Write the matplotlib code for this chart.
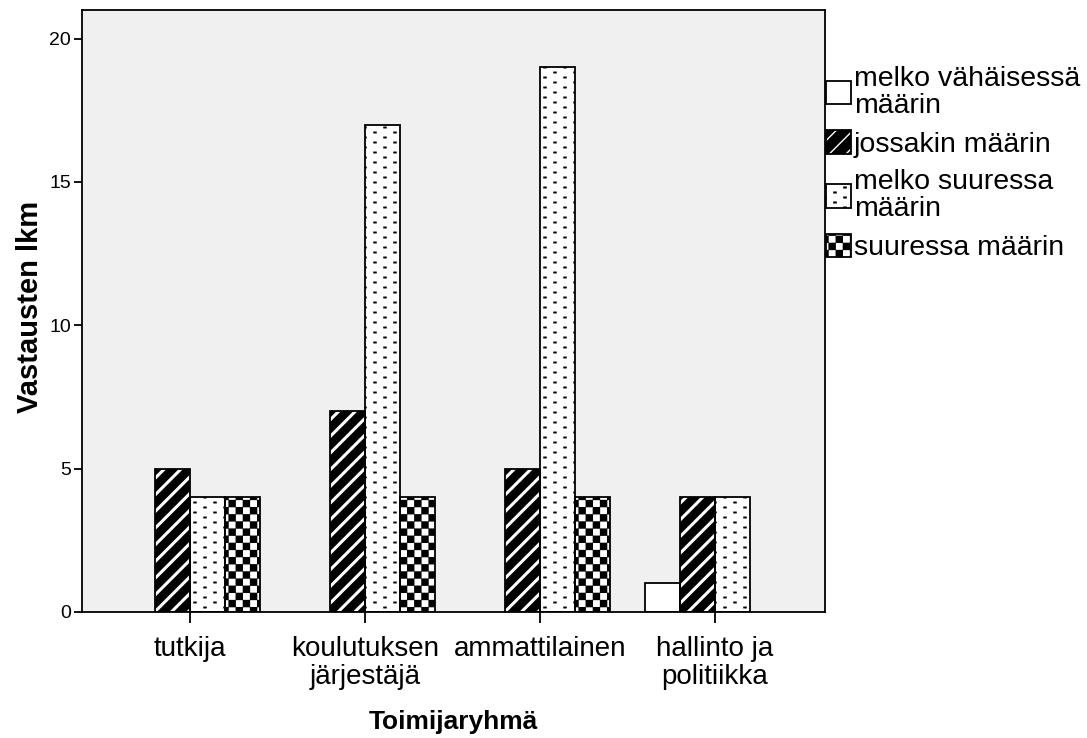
import numpy as np
import matplotlib
matplotlib.use("Agg")
import matplotlib.pyplot as plt
import matplotlib.hatch as mhatch
from matplotlib.path import Path
from matplotlib.patches import Patch

categories = ["tutkija", "koulutuksen\njärjestäjä", "ammattilainen", "hallinto ja\npolitiikka"]
series = ["melko vähäisessä\nmäärin", "jossakin määrin", "melko suuressa\nmäärin", "suuressa määrin"]
melko_vahaisessa = [0, 0, 0, 1]
jossakin = [5, 7, 5, 4]
melko_suuressa = [4, 17, 19, 4]
suuressa = [4, 4, 4, 0]
yticks = [0, 5, 10, 15, 20]


# SPSS-like fill patterns: checker ('*') and staggered dashes ('.')
class Checker(mhatch.HatchPatternBase):
    def __init__(self, hatch, density):
        self.n = 14 if "*" in hatch else 0
        self.num_vertices = self.n * self.n // 2 * 5

    def set_vertices_and_codes(self, vertices, codes):
        s = 1.0 / self.n
        m = 0.12 * s
        k = 0
        for i in range(self.n):
            for j in range(self.n):
                if (i + j) % 2:
                    continue
                x, y = j * s, i * s
                vertices[k:k + 5] = [[x + m, y + m], [x + s - m, y + m], [x + s - m, y + s - m],
                                     [x + m, y + s - m], [x + m, y + m]]
                codes[k:k + 5] = [Path.MOVETO, Path.LINETO, Path.LINETO, Path.LINETO, Path.CLOSEPOLY]
                k += 5


class Dashes(mhatch.HatchPatternBase):
    def __init__(self, hatch, density):
        self.rows = 20 if "." in hatch else 0
        self.cols = 5
        self.num_vertices = self.rows * self.cols * 5

    def set_vertices_and_codes(self, vertices, codes):
        w, h = 0.022, 0.007
        k = 0
        for i in range(self.rows):
            y = (i + 0.5) / self.rows
            for j in range(self.cols):
                x = (j + 0.25 + 0.5 * (i % 2)) / self.cols
                vertices[k:k + 5] = [[x - w / 2, y - h / 2], [x + w / 2, y - h / 2], [x + w / 2, y + h / 2],
                                     [x - w / 2, y + h / 2], [x - w / 2, y - h / 2]]
                codes[k:k + 5] = [Path.MOVETO, Path.LINETO, Path.LINETO, Path.LINETO, Path.CLOSEPOLY]
                k += 5


mhatch._hatch_types = [t for t in mhatch._hatch_types
                       if t not in (mhatch.Stars, mhatch.SmallFilledCircles)] + [Checker, Dashes]

plt.rcParams["font.family"] = ["Liberation Sans", "DejaVu Sans"]

values = [melko_vahaisessa, jossakin, melko_suuressa, suuressa]
faces = ["white", "black", "white", "black"]
hatch_cols = ["black", "white", "black", "white"]
hatches = [None, "//", ".", "*"]
hatch_lws = [1.0, 2.2, 0.9, 1.0]

fig = plt.figure(figsize=(10.87, 7.38), dpi=100)
ax = fig.add_axes([82 / 1087, 1 - 612 / 738, (825 - 82) / 1087, (612 - 10) / 738])
ax.set_facecolor("#f0f0f0")

pos = np.arange(len(categories))
width = 0.2
handles = []
for k in range(len(series)):
    vals = np.asarray(values[k], dtype=float)
    x = pos + (k - 1.5) * width
    mask = vals > 0
    fill = ax.bar(x[mask], vals[mask], width, color=faces[k], edgecolor=hatch_cols[k],
                  hatch=hatches[k], linewidth=0, zorder=2)
    for b in fill:
        if hasattr(b, "set_hatch_linewidth"):
            b.set_hatch_linewidth(hatch_lws[k])
    ax.bar(x[mask], vals[mask], width, fill=False, edgecolor="black", linewidth=1.3, zorder=3)
    hp = Patch(facecolor=faces[k], edgecolor=hatch_cols[k], hatch=hatches[k], linewidth=0)
    if hasattr(hp, "set_hatch_linewidth"):
        hp.set_hatch_linewidth(hatch_lws[k])
    op = Patch(fill=False, edgecolor="black", linewidth=1.3)
    handles.append((hp, op))

ax.set_xlim(-0.617, 3.629)
ax.set_ylim(0, 21.0)
ax.set_xticks(pos)
ax.set_xticklabels(categories, fontsize=20, linespacing=1.1)
ax.set_yticks(yticks)
ax.set_yticklabels([str(v) for v in yticks], fontsize=14)
ax.tick_params(axis="x", length=8, width=1.3, pad=9)
ax.tick_params(axis="y", length=6, width=1.3, pad=2)
for sp in ax.spines.values():
    sp.set_linewidth(1.3)

fig.text(30 / 1087, 1 - 307 / 738, "Vastausten lkm", rotation=90, fontsize=21,
         fontweight="bold", ha="center", va="center")
fig.text(453.5 / 1087, 1 - 722 / 738, "Toimijaryhmä", fontsize=19, fontweight="bold",
         ha="center", va="center")

leg = fig.legend(handles, series, loc="upper left", bbox_to_anchor=(826 / 1087, 1 - 66 / 738),
                 frameon=False, fontsize=20.5, handlelength=0.88, handleheight=0.88,
                 handletextpad=0.1, labelspacing=0.4, borderpad=0, borderaxespad=0)
for t in leg.get_texts():
    t.set_linespacing(1.05)

fig.savefig("out.png", dpi=100)
